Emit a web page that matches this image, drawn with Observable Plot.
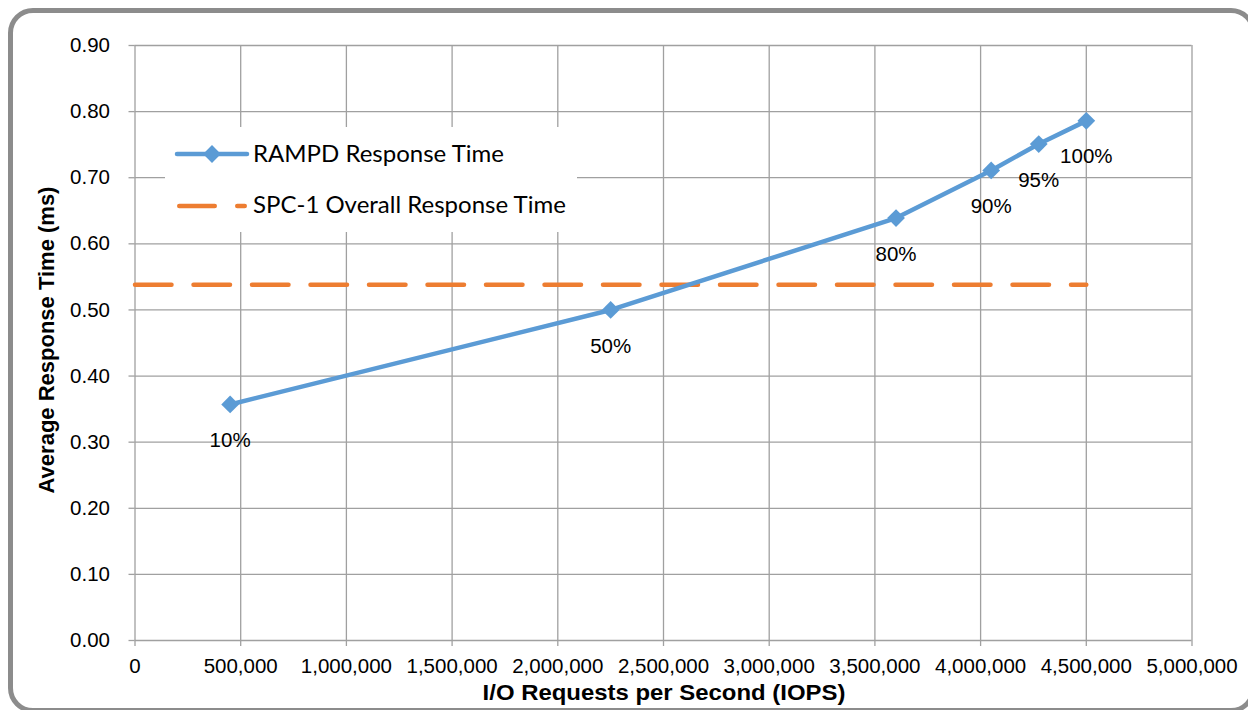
<!DOCTYPE html>
<html>
<head>
<meta charset="utf-8">
<script src="https://cdn.jsdelivr.net/npm/d3@7"></script>
<script src="https://cdn.jsdelivr.net/npm/@observablehq/plot@0.6"></script>
<style>
  html, body { margin: 0; padding: 0; background: #fff; }
  body { width: 1248px; height: 710px; overflow: hidden; position: relative; }
  #frame { position: absolute; left: 8px; top: 8px; width: 1248px; height: 705px; box-sizing: border-box;
           border: 5px solid #8c8c8c; border-radius: 25px; }
  #chart { position: absolute; left: 0; top: 0; }
  #ytitle { position: absolute; left: 47px; top: 340px; transform: translate(-50%, -50%) rotate(-90deg);
            font: bold 22px "Liberation Sans", Arial, sans-serif; white-space: nowrap; color: #000; }
  #xtitle { position: absolute; left: 664px; top: 693px; transform: translate(-50%, -50%) scaleX(1.087);
            font: bold 22px "Liberation Sans", Arial, sans-serif; white-space: nowrap; color: #000; }
  #legend { position: absolute; left: 165px; top: 127px; width: 412px; height: 105px; background: #fff; }
  #legend text { font-family: Lato, "Open Sans", sans-serif; font-size: 24px; fill: #000; }
</style>
</head>
<body>
<div id="frame"></div>
<div id="chart"></div>
<div id="ytitle">Average Response Time (ms)</div>
<div id="xtitle">I/O Requests per Second (IOPS)</div>
<div id="legend"></div>
<script>
// ---- data ----
const iops = [450000, 2250000, 3600000, 4050000, 4275000, 4500000];
const responseTime = [0.357, 0.500, 0.639, 0.711, 0.751, 0.786];
const loadLabels = ["10%", "50%", "80%", "90%", "95%", "100%"];
const spcOverallIops = [0, 4500000];
const spcOverallTime = [0.538, 0.538];
const xTicks = [0, 500000, 1000000, 1500000, 2000000, 2500000, 3000000, 3500000, 4000000, 4500000, 5000000];
const yTicks = [0, 0.1, 0.2, 0.3, 0.4, 0.5, 0.6, 0.7, 0.8, 0.9];
const seriesNames = ["RAMPD Response Time", "SPC-1 Overall Response Time"];

const blue = "#5B9BD5";
const orange = "#ED7D31";
const grid = "#a0a0a0";

const rampd = iops.map((x, i) => ({x, y: responseTime[i], label: loadLabels[i]}));
const spc = spcOverallIops.map((x, i) => ({x, y: spcOverallTime[i]}));

const chart = Plot.plot({
  width: 1248,
  height: 710,
  marginLeft: 134.5,
  marginRight: 56.5,
  marginTop: 45,
  marginBottom: 70,
  style: {fontFamily: '"Liberation Sans", Arial, sans-serif', fontSize: "20.5px", color: "#000", background: "transparent", overflow: "visible"},
  x: {domain: [0, 5000000]},
  y: {domain: [0, 0.9]},
  marks: [
    Plot.gridX(xTicks, {stroke: grid, strokeOpacity: 1, strokeWidth: 1.3}),
    Plot.gridY(yTicks, {stroke: grid, strokeOpacity: 1, strokeWidth: 1.3}),
    Plot.axisX(xTicks, {tickFormat: d3.format(","), tickSize: 6, tickPadding: 12, stroke: grid, strokeWidth: 1.3, fill: "#000", fontSize: 20.5, label: null}),
    Plot.axisY(yTicks, {tickFormat: d => d.toFixed(2), tickSize: 6, tickPadding: 19, stroke: grid, strokeWidth: 1.3, fill: "#000", fontSize: 20.5, label: null}),
    Plot.line(spc, {x: "x", y: "y", stroke: orange, strokeWidth: 4.5, strokeDasharray: "36.5,22", strokeLinecap: "round"}),
    Plot.line(rampd, {x: "x", y: "y", stroke: blue, strokeWidth: 4.5, strokeLinejoin: "round"}),
    Plot.dot(rampd, {x: "x", y: "y", symbol: "diamond2", r: 8, fill: blue, stroke: "none"}),
    Plot.text(rampd, {x: "x", y: "y", text: "label", dy: 36, fontSize: 20.5, fill: "#000"})
  ]
});
document.getElementById("chart").appendChild(chart);

// ---- legend ----
const leg = d3.select("#legend").append("svg").attr("width", 412).attr("height", 105);
const g1 = leg.append("g");
g1.append("line").attr("x1", 12).attr("x2", 82).attr("y1", 27).attr("y2", 27)
  .attr("stroke", blue).attr("stroke-width", 4.5).attr("stroke-linecap", "round");
g1.append("path").attr("d", d3.symbol(d3.symbolDiamond2, Math.PI * 64)())
  .attr("transform", "translate(47,27)").attr("fill", blue);
g1.append("text").attr("x", 88).attr("y", 35).text(seriesNames[0]);
const g2 = leg.append("g");
g2.append("line").attr("x1", 14.25).attr("x2", 79.75).attr("y1", 79).attr("y2", 79)
  .attr("stroke", orange).attr("stroke-width", 4.5).attr("stroke-linecap", "round")
  .attr("stroke-dasharray", "35.5,22.5");
g2.append("text").attr("x", 88).attr("y", 86).text(seriesNames[1]);
</script>
</body>
</html>
